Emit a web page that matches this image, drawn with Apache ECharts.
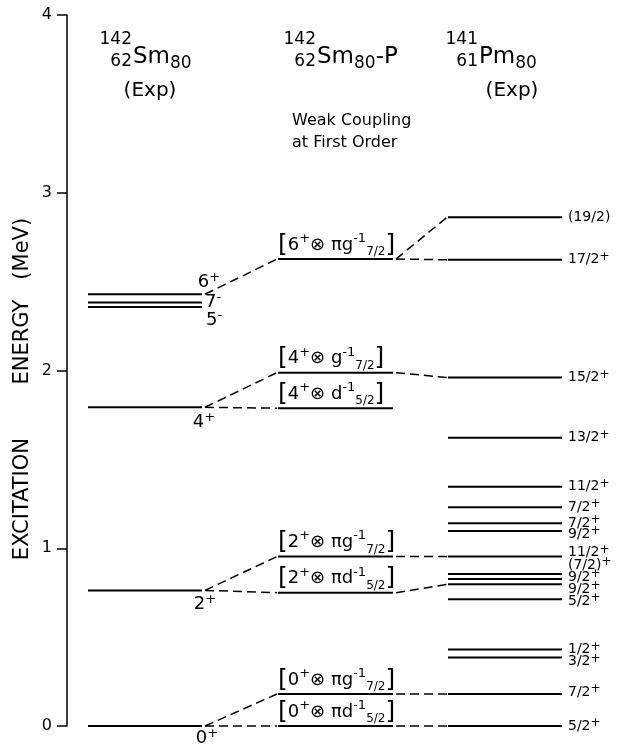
<!DOCTYPE html>
<html><head><meta charset="utf-8">
<script src="https://cdn.jsdelivr.net/npm/echarts@6/dist/echarts.min.js"></script>
<style>html,body{margin:0;padding:0;background:#fff}#c{width:625px;height:746px}</style>
</head><body><div id="c"></div>
<script>
// ---------------- DATA ----------------
// 142Sm (Exp) levels, MeV
const smEnergies = [0, 0.763, 1.793, 2.357, 2.382, 2.429];
const smSpins    = ['0', '2', '4', '5', '7', '6'];
const smParities = ['+', '+', '+', '-', '-', '+'];

// 142Sm-P weak-coupling (first order) multiplets, MeV
const wcEnergies = [0, 0.18, 0.75, 0.953, 1.788, 1.988, 2.627];
const wcCores    = ['0', '0', '2', '2', '4', '4', '6'];
const wcOrbitals = ['πd', 'πg', 'πd', 'πg', 'd', 'g', 'πg'];
const wcJ        = ['5/2', '7/2', '5/2', '7/2', '5/2', '7/2', '7/2'];

// 141Pm (Exp) levels, MeV
const pmEnergies = [0, 0.18, 0.386, 0.431, 0.713, 0.797, 0.827, 0.855, 0.953, 1.097, 1.14, 1.23, 1.346, 1.622, 1.96, 2.623, 2.862];
const pmSpins    = ['5/2', '7/2', '3/2', '1/2', '5/2', '9/2', '9/2', '(7/2)', '11/2', '9/2', '7/2', '7/2', '11/2', '13/2', '15/2', '17/2', '(19/2)'];
const pmParities = ['+', '+', '+', '+', '+', '+', '+', '+', '+', '+', '+', '+', '+', '+', '+', '+', ''];

// dashed correspondences: [fromColumn, fromIndex, toColumn, toIndex]
const links = [
  ['sm', 0, 'wc', 0], ['sm', 0, 'wc', 1],
  ['sm', 1, 'wc', 2], ['sm', 1, 'wc', 3],
  ['sm', 2, 'wc', 4], ['sm', 2, 'wc', 5],
  ['sm', 5, 'wc', 6],
  ['wc', 0, 'pm', 0], ['wc', 1, 'pm', 1], ['wc', 2, 'pm', 5], ['wc', 3, 'pm', 8],
  ['wc', 5, 'pm', 14], ['wc', 6, 'pm', 15], ['wc', 6, 'pm', 16]
];

const yTickLabels = ['0', '1', '2', '3', '4'];
const yTitle = 'EXCITATION        ENERGY   (MeV)';

// ---------------- LAYOUT ----------------
const FF = '"DejaVu Sans", sans-serif';
const AXIS_X = 67, W = 625;
const COLS = { sm: [88, 202], wc: [278, 393], pm: [448, 562] };
const energiesOf = { sm: smEnergies, wc: wcEnergies, pm: pmEnergies };
const smLabelOff = [[5, 12], [3, 14], [2, 15], [12, 13], [11, 0], [7, -12]];
const pmLabelDy  = [0, -2, 4, 0, 2, 5, -2, -9, -4, 3, 0, 0, 0, 0, 0, 0, 0];
const px = v => v - AXIS_X;

const chart = echarts.init(document.getElementById('c'), null, { renderer: 'canvas' });

function lineEl(p0, p1, dashed) {
  return {
    type: 'line',
    shape: { x1: p0[0], y1: p0[1], x2: p1[0], y2: p1[1] },
    style: { stroke: '#000', lineWidth: dashed ? 1.5 : 2, lineDash: dashed ? [9, 5] : null }
  };
}

function levelSeries(col, labelFn) {
  return {
    type: 'custom',
    coordinateSystem: 'cartesian2d',
    silent: true,
    data: energiesOf[col].map((e, i) => [i, e]),
    renderItem(params, api) {
      const i = api.value(0), e = api.value(1);
      const p0 = api.coord([px(COLS[col][0]), e]);
      const p1 = api.coord([px(COLS[col][1]), e]);
      return { type: 'group', children: [lineEl(p0, p1, false), labelFn(i, p0, p1)] };
    }
  };
}

const smLabel = (i, p0, p1) => ({
  type: 'text',
  x: p1[0] + smLabelOff[i][0], y: p1[1] + smLabelOff[i][1],
  style: {
    text: smSpins[i] + '{sup|' + smParities[i] + '}',
    font: '18px ' + FF, fill: '#000', align: 'center', verticalAlign: 'middle', lineHeight: 22,
    rich: { sup: { font: '13px ' + FF, verticalAlign: 'top', lineHeight: 22 } }
  }
});

const wcLabel = (i, p0, p1) => ({
  type: 'text',
  x: p0[0], y: p0[1] - 1,
  style: {
    text: '{br|[}' + wcCores[i] + '{sup|+}⊗ ' + wcOrbitals[i] + '{sup|-1}{sub|' + wcJ[i] + '}{br|]}',
    font: '18px ' + FF, fill: '#000', align: 'left', verticalAlign: 'bottom', lineHeight: 26,
    rich: {
      br: { font: '25px ' + FF, verticalAlign: 'middle', lineHeight: 26 },
      sup: { font: '13px ' + FF, verticalAlign: 'top', lineHeight: 26 },
      sub: { font: '12px ' + FF, verticalAlign: 'bottom', lineHeight: 26 }
    }
  }
});

const pmLabel = (i, p0, p1) => ({
  type: 'text',
  x: p1[0] + 6, y: p1[1] + pmLabelDy[i],
  style: {
    text: pmSpins[i] + (pmParities[i] ? '{sup|' + pmParities[i] + '}' : ''),
    font: '14px ' + FF, fill: '#000', align: 'left', verticalAlign: 'middle', lineHeight: 18,
    rich: { sup: { font: '12px ' + FF, verticalAlign: 'top', lineHeight: 18 } }
  }
});

const linkSeries = {
  type: 'custom',
  coordinateSystem: 'cartesian2d',
  silent: true,
  data: links.map((l, k) => [k, energiesOf[l[0]][l[1]], energiesOf[l[2]][l[3]]]),
  renderItem(params, api) {
    const k = api.value(0);
    const l = links[k];
    const p0 = api.coord([px(COLS[l[0]][1] + 3), api.value(1)]);
    const p1 = api.coord([px(COLS[l[2]][0] - 1), api.value(2)]);
    return lineEl(p0, p1, true);
  }
};

function header(prescriptX, sup, sub, main, mainSub, tail) {
  return [
    { type: 'text', x: prescriptX, y: 40, style: { text: sup, font: '17px ' + FF, fill: '#000', align: 'right', verticalAlign: 'middle' } },
    { type: 'text', x: prescriptX, y: 62, style: { text: sub, font: '17px ' + FF, fill: '#000', align: 'right', verticalAlign: 'middle' } },
    { type: 'text', x: prescriptX + 1, y: 57, style: {
        text: main + '{sub|' + mainSub + '}' + (tail || ''),
        font: '23px ' + FF, fill: '#000', align: 'left', verticalAlign: 'middle', lineHeight: 30,
        rich: { sub: { font: '17px ' + FF, verticalAlign: 'bottom', lineHeight: 30 } } } }
  ];
}

const graphics = [].concat(
  header(132, '142', '62', 'Sm', '80'),
  [{ type: 'text', x: 150, y: 91, style: { text: '(Exp)', font: '20px ' + FF, fill: '#000', align: 'center', verticalAlign: 'middle' } }],
  header(316, '142', '62', 'Sm', '80', '-P'),
  [{ type: 'text', x: 292, y: 121, style: { text: 'Weak Coupling', font: '16px ' + FF, fill: '#000', align: 'left', verticalAlign: 'middle' } },
   { type: 'text', x: 292, y: 143, style: { text: 'at First Order', font: '16px ' + FF, fill: '#000', align: 'left', verticalAlign: 'middle' } }],
  header(478, '141', '61', 'Pm', '80'),
  [{ type: 'text', x: 512, y: 91, style: { text: '(Exp)', font: '20px ' + FF, fill: '#000', align: 'center', verticalAlign: 'middle' } }],
  [{ type: 'text', x: 23, y: 389, rotation: Math.PI / 2, style: { text: yTitle, font: '21px ' + FF, fill: '#000', align: 'center', verticalAlign: 'middle' } }]
);

chart.setOption({
  animation: false,
  backgroundColor: '#fff',
  grid: { left: AXIS_X, right: 0, top: 15, bottom: 20, containLabel: false },
  xAxis: { type: 'value', min: 0, max: W - AXIS_X, show: false },
  yAxis: {
    type: 'value', min: 0, max: 4, interval: 1,
    axisLine: { show: true, onZero: false, lineStyle: { color: '#000', width: 1.5 } },
    axisTick: { show: true, length: 10, lineStyle: { color: '#000', width: 1.5 } },
    axisLabel: { color: '#000', fontSize: 16, fontFamily: FF, margin: 15, formatter: v => yTickLabels[v] },
    splitLine: { show: false }
  },
  graphic: graphics,
  series: [
    linkSeries,
    levelSeries('sm', smLabel),
    levelSeries('wc', wcLabel),
    levelSeries('pm', pmLabel)
  ]
});
</script></body></html>
